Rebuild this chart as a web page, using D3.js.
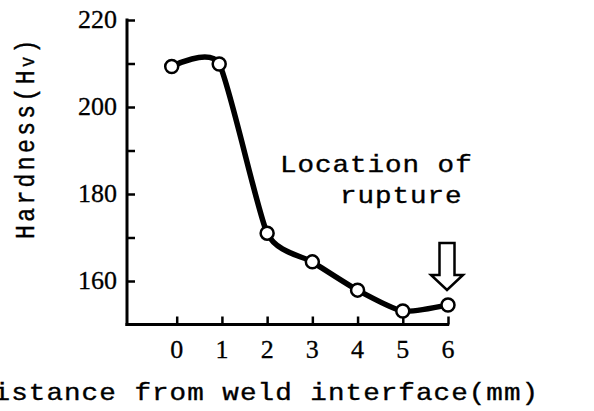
<!DOCTYPE html>
<html><head><meta charset="utf-8">
<script src="https://cdn.jsdelivr.net/npm/d3@7"></script>
<style>html,body{margin:0;padding:0;background:#fff;}svg{display:block;}</style>
</head><body>
<svg id="chart" width="594" height="411"></svg>
<script>
// ---- data ----
const distances = [-0.11, 0.94, 2, 3, 4, 5, 6];
const hardness  = [209.3, 209.9, 171.0, 164.4, 157.9, 153.1, 154.5];
const xTicks = [0, 1, 2, 3, 4, 5, 6];
const yTicks = [160, 170, 180, 190, 200, 210, 220];
const yLabels = [160, 180, 200, 220];
const xTitle = "Distance from weld interface(mm)";
const yTitleMain = "Hardness(H";
const yTitleSub = "v";
const yTitleEnd = ")";
const noteLines = ["Location of", "rupture"];

const svg = d3.select("#chart");
const x = d3.scaleLinear().domain([0, 6]).range([176.7, 448]);
const y = d3.scaleLinear().domain([150, 220]).range([324.5, 20]);
const axisX = 127;

const mono = "'Liberation Mono', 'DejaVu Sans Mono', monospace";
const serif = "'Liberation Serif', 'DejaVu Serif', serif";

// Y axis (ticks inward)
const yAxis = d3.axisRight(y).tickValues(yTicks).tickSize(8).tickFormat("");
const gy = svg.append("g").attr("transform", `translate(${axisX},0)`).call(yAxis);
gy.select(".domain").remove();
gy.selectAll(".tick line").attr("stroke", "#000").attr("stroke-width", 2.5);
svg.append("line").attr("x1", axisX).attr("x2", axisX).attr("y1", y(220) - 1.5).attr("y2", y(150) + 1.5)
  .attr("stroke", "#000").attr("stroke-width", 3);

// X axis (ticks inward)
const xAxis = d3.axisTop(x).tickValues(xTicks).tickSize(8).tickFormat("");
const gx = svg.append("g").attr("transform", `translate(0,${y(150)})`).call(xAxis);
gx.select(".domain").remove();
gx.selectAll(".tick line").attr("stroke", "#000").attr("stroke-width", 2.5);
svg.append("line").attr("x1", axisX - 1.5).attr("x2", x(6) + 1.2).attr("y1", y(150)).attr("y2", y(150))
  .attr("stroke", "#000").attr("stroke-width", 3);

// tick labels
svg.append("g").selectAll("text").data(yLabels).join("text")
  .attr("x", 117).attr("y", d => y(d) + 8).attr("text-anchor", "end")
  .attr("font-family", serif).attr("font-size", 26).attr("fill", "#000")
  .attr("stroke", "#000").attr("stroke-width", 0.3).text(d => d);
svg.append("g").selectAll("text").data(xTicks).join("text")
  .attr("x", d => x(d)).attr("y", 358).attr("text-anchor", "middle")
  .attr("font-family", serif).attr("font-size", 26).attr("fill", "#000")
  .attr("stroke", "#000").attr("stroke-width", 0.3).text(d => d);

// stretched monospace text helper
function stretched(tx, ty, ls, rot) {
  const g = svg.append("g").attr("transform", `translate(${tx},${ty}) scale(1.2,1)` + (rot ? ` rotate(${rot})` : ""));
  return g.append("text").attr("x", 0).attr("y", 0)
    .attr("font-family", mono).attr("font-size", 23).attr("letter-spacing", ls)
    .attr("fill", "#000").attr("stroke", "#000").attr("stroke-width", 0.35)
    .attr("xml:space", "preserve");
}
stretched(-24, 400, 0.87).text(xTitle);
const yt = stretched(34, 239, 3.4, -90);
yt.append("tspan").text(yTitleMain);
yt.append("tspan").attr("font-size", 17).text(yTitleSub);
yt.append("tspan").text(yTitleEnd);
stretched(280, 171.7, 0.8).text(noteLines[0]);
stretched(340, 203.3, 0.8).text(noteLines[1]);

// curve
const pts = distances.map((d, i) => [x(d), y(hardness[i])]);
svg.append("path").attr("d", d3.line().curve(d3.curveCardinal.tension(0.4))(pts))
  .attr("fill", "none").attr("stroke", "#000").attr("stroke-width", 5.5).attr("stroke-linecap", "round");

// markers
svg.append("g").selectAll("circle").data(pts).join("circle")
  .attr("cx", d => d[0]).attr("cy", d => d[1]).attr("r", 6.5)
  .attr("fill", "#fff").attr("stroke", "#000").attr("stroke-width", 2.5);

// arrow pointing to rupture location (last point)
const ax = x(distances[distances.length - 1]) - 1;
const tipY = y(hardness[hardness.length - 1]) - 15;
const arrow = d3.path();
arrow.moveTo(ax - 7.5, tipY - 47);
arrow.lineTo(ax + 7.5, tipY - 47);
arrow.lineTo(ax + 7.5, tipY - 15);
arrow.lineTo(ax + 16, tipY - 15);
arrow.lineTo(ax, tipY);
arrow.lineTo(ax - 16, tipY - 15);
arrow.lineTo(ax - 7.5, tipY - 15);
arrow.closePath();
svg.append("path").attr("d", arrow.toString()).attr("fill", "#fff").attr("stroke", "#000")
  .attr("stroke-width", 2.5).attr("stroke-linejoin", "miter");
</script>
</body></html>
